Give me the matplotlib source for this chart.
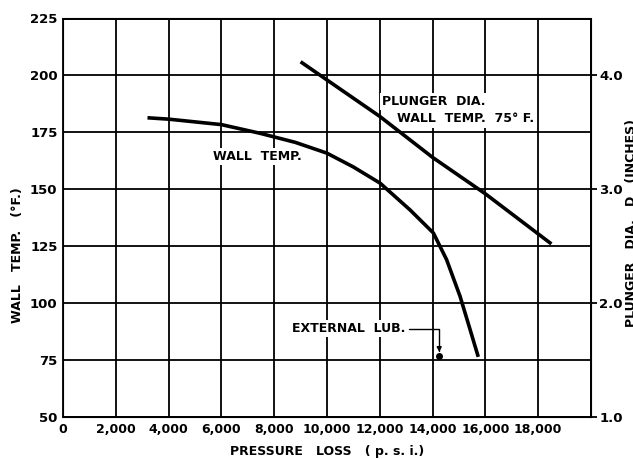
import numpy as np
import matplotlib
matplotlib.use('Agg')
import matplotlib.pyplot as plt

# Данные кривой температуры стенки
wall_x = [3200, 4000, 6000, 7460, 8800, 9990, 11000, 12010, 13140, 14030, 14530, 15040, 15420, 15730]
wall_y = [181.4, 180.8, 178.4, 174.6, 170.6, 165.9, 159.8, 152.7, 141.0, 130.8, 119.1, 103.0, 88.4, 76.4]

# Диаметр плунжера (правая ось, дюймы)
plunger_x = [9000, 12000, 14000, 16000, 18500]
plunger_d = [4.12, 3.64, 3.28, 2.96, 2.52]

# Точка внешней смазки
lub_x = 14250
lub_y = 76.7

x_labels = ['0', '2,000', '4,000', '6,000', '8,000', '10,000', '12,000', '14,000', '16,000', '18,000', '']
y_ticks = [50, 75, 100, 125, 150, 175, 200, 225]
d_ticks = [1.0, 2.0, 3.0, 4.0]

plt.rcParams['font.family'] = 'DejaVu Sans'
plt.rcParams['font.weight'] = 'bold'

fig = plt.figure(figsize=(6.33, 4.59), dpi=100)
ax = fig.add_axes([63/633, 42/459, 528/633, 398.5/459])

ax.set_xlim(0, 20000)
ax.set_ylim(50, 225)
ax.set_xticks(list(range(0, 20001, 2000)))
ax.set_xticklabels(x_labels, fontsize=9, fontweight='bold')
ax.set_yticks(y_ticks)
ax.set_yticklabels([str(v) for v in y_ticks], fontsize=9.5, fontweight='bold')
ax.tick_params(length=0, pad=4)
ax.grid(True, color='black', linewidth=1.3)
for s in ax.spines.values():
    s.set_linewidth(1.3)

ax.plot(wall_x, wall_y, color='black', linewidth=2.6, solid_capstyle='butt')

ax2 = ax.twinx()
ax2.set_ylim(1.0, 4.5)
ax2.set_yticks(d_ticks)
ax2.set_yticklabels(['1.0', '2.0', '3.0', '4.0'], fontsize=9.5, fontweight='bold')
ax2.tick_params(length=4, width=1.3, pad=2)
ax2.plot(plunger_x, plunger_d, color='black', linewidth=2.6, solid_capstyle='butt')

box = dict(facecolor='white', edgecolor='none', pad=1.5)
ax.text(5680, 164.3, 'WALL  TEMP.', fontsize=9, fontweight='bold', va='center', bbox=box)
ax.text(12080, 188.4, 'PLUNGER  DIA.', fontsize=9, fontweight='bold', va='center', bbox=box)
ax.text(12650, 180.9, 'WALL  TEMP.  75° F.', fontsize=9, fontweight='bold', va='center', bbox=box)

ax.annotate('EXTERNAL  LUB.', xy=(lub_x, lub_y + 1.8), xytext=(8670, 88.8),
            fontsize=9, fontweight='bold', va='center', ha='left', bbox=box,
            arrowprops=dict(arrowstyle='-|>', color='black', lw=1.0,
                            connectionstyle='angle,angleA=0,angleB=90,rad=0',
                            shrinkA=1, shrinkB=0, mutation_scale=7))
ax.plot(lub_x, lub_y, 'o', color='black', markersize=4)

fig.text(327/633, 1 - 452/459, 'PRESSURE   LOSS   ( p. s. i.)', ha='center', va='center',
         fontsize=9, fontweight='bold')
fig.text(18/633, 1 - 255/459, 'WALL   TEMP.   (°F.)', ha='center', va='center',
         rotation=90, fontsize=9, fontweight='bold')
fig.text(631/633, 1 - 223/459, 'PLUNGER   DIA.   D   (INCHES)', ha='center', va='center',
         rotation=90, fontsize=9, fontweight='bold')

fig.savefig('out.png', dpi=100)
